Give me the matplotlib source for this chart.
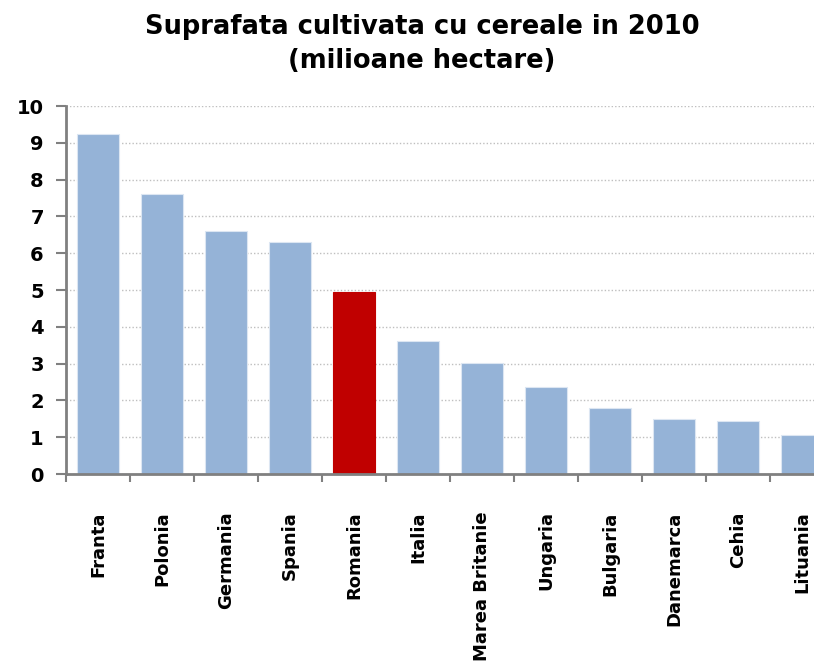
import matplotlib
matplotlib.use("Agg")
import matplotlib.pyplot as plt
import numpy as np

countries = ["Franta", "Polonia", "Germania", "Spania", "Romania", "Italia",
             "Marea Britanie", "Ungaria", "Bulgaria", "Danemarca", "Cehia", "Lituania"]
area_mha = [9.24, 7.61, 6.61, 6.31, 4.95, 3.62, 3.02, 2.36, 1.79, 1.49, 1.44, 1.06]
highlight = "Romania"
y_ticks = list(range(0, 11))

plt.rcParams["font.family"] = ["DejaVu Sans"]

fig = plt.figure(figsize=(8.14, 6.62), dpi=100)
W, H = 814, 662
left, right, bottom, top = 66, 834, 474, 106
ax = fig.add_axes([left / W, 1 - bottom / H, (right - left) / W, (bottom - top) / H])
ax.set_axisbelow(True)

x = np.arange(len(countries))
colors = ["#C00000" if c == highlight else "#95B3D7" for c in countries]
edges = ["#C00000" if c == highlight else "#DCE6F2" for c in countries]
ax.bar(x, area_mha, width=0.66, color=colors, edgecolor=edges, linewidth=0.8, zorder=2)

ax.set_xlim(-0.5, len(countries) - 0.5)
ax.set_ylim(0, 10)
ax.set_yticks(y_ticks)
ax.set_yticklabels([str(t) for t in y_ticks], fontsize=14, fontweight="bold")
ax.yaxis.grid(True, color="#BFBFBF", linestyle=(0, (1, 1.5)), linewidth=1.0)

ax.set_xticks(x)
ax.set_xticklabels(countries, rotation=90, fontsize=13, fontweight="bold",
                   ha="center", va="top")
ax.set_xticks(np.arange(len(countries)) - 0.5, minor=True)
ax.tick_params(axis="x", which="major", length=0, pad=27)
ax.tick_params(axis="x", which="minor", length=6, width=1.5, color="#808080")
ax.tick_params(axis="y", length=7, width=1.5, color="#808080", pad=9)

for s in ("top", "right"):
    ax.spines[s].set_visible(False)
for s in ("left", "bottom"):
    ax.spines[s].set_color("#808080")
    ax.spines[s].set_linewidth(2)

fig.text(422 / W, 1 - 44 / H, "Suprafata cultivata cu cereale in 2010\n(milioane hectare)",
         ha="center", va="center", fontsize=18.5, fontweight="bold", linespacing=1.4)

fig.savefig("out.png", dpi=100)
